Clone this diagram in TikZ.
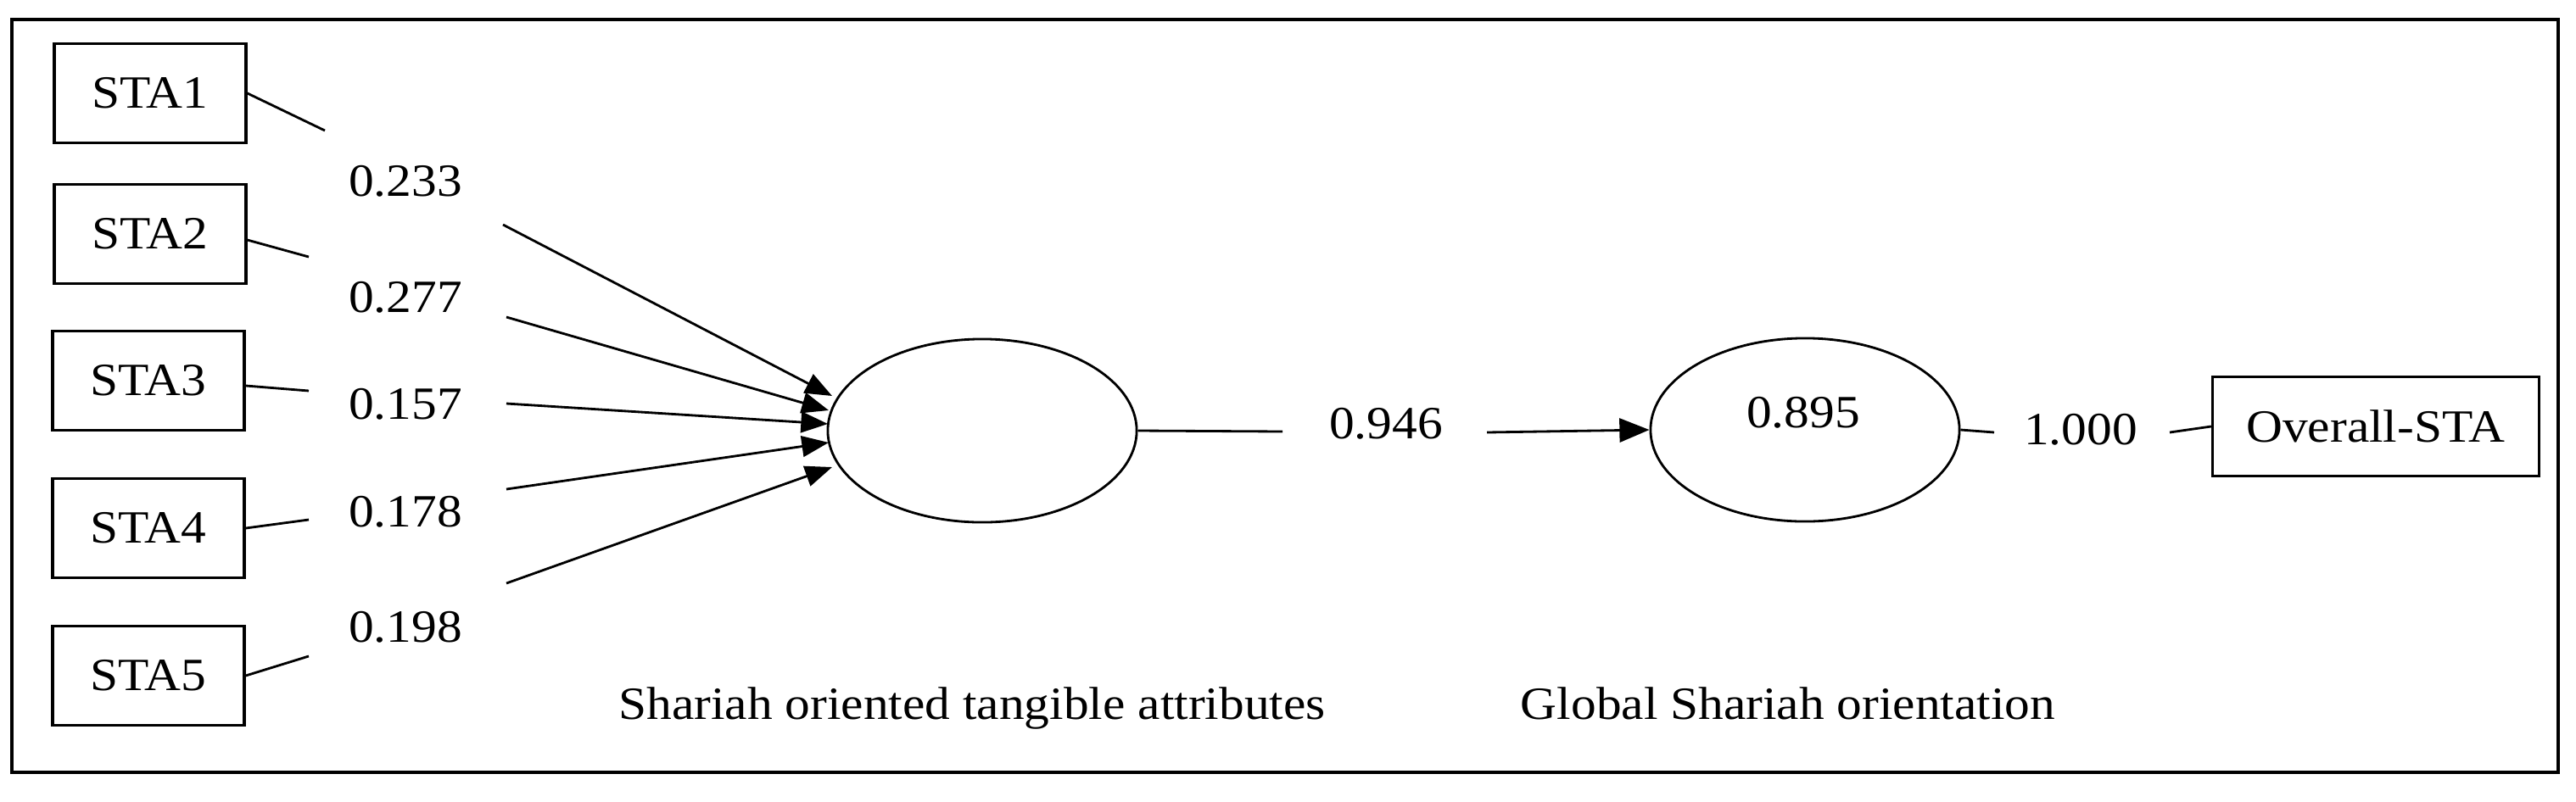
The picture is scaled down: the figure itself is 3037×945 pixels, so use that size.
\documentclass[tikz,border=0pt]{standalone}
\usepackage{fontspec}
\setmainfont{Liberation Serif}[FakeStretch=1.09]
\usetikzlibrary{arrows.meta,shapes.geometric}
\begin{document}
\begin{tikzpicture}[x=0.01cm,y=-0.01cm,
  font=\fontsize{15.5}{18}\selectfont,
  box/.style={draw, line width=0.9pt, minimum width=2.26cm, minimum height=1.17cm, inner sep=0pt},
  bigbox/.style={box, minimum width=3.85cm},
  lv/.style={draw, ellipse, line width=0.8pt, minimum width=3.64cm, minimum height=2.16cm, inner sep=0pt},
  lbl/.style={inner sep=0pt},
  ln/.style={line width=0.8pt},
  arr/.style={ln, -{Triangle[length=9pt,width=7pt]}}]
\useasboundingbox (0,0) rectangle (3037,945);
\draw[line width=1.3pt] (14,23) rectangle (3016,911);

% indicator boxes
\node[box] (sta1) at (177,110) {STA1};
\node[box] (sta2) at (177,276) {STA2};
\node[box] (sta3) at (175,449) {STA3};
\node[box] (sta4) at (175,623) {STA4};
\node[box] (sta5) at (175,797) {STA5};

% weights
\node[lbl] (w1) at (478,214) {0.233};
\node[lbl] (w2) at (478,351) {0.277};
\node[lbl] (w3) at (478,477) {0.157};
\node[lbl] (w4) at (478,604) {0.178};
\node[lbl] (w5) at (478,740) {0.198};

% latent variables
\node[lv] (sota) at (1158,508) {};
\node[lv] (gso) at (2128,507) {};
\node[lbl] (r2) at (2126,487) {0.895};
\node[bigbox] (ov) at (2801,503) {Overall-STA};

\node[lbl] (p1) at (1634,500) {0.946};
\node[lbl] (p2) at (2453,507) {1.000};

\node[lbl, anchor=base] (t1) at (1146,848) {Shariah oriented tangible attributes};
\node[lbl, anchor=base] (t2) at (2108,848) {Global Shariah orientation};

% free ends of connectors
\coordinate (e1) at (383,154);
\coordinate (e2) at (364,303);
\coordinate (e3) at (364,461);
\coordinate (e4) at (364,613);
\coordinate (e5) at (364,774);

\coordinate (s1) at (593,265);
\coordinate (s2) at (597,374);
\coordinate (s3) at (597,476);
\coordinate (s4) at (597,577);
\coordinate (s5) at (597,688);

\coordinate (h1) at (981,467);
\coordinate (h2) at (977,484);
\coordinate (h3) at (976,500);
\coordinate (h4) at (977,522);
\coordinate (h5) at (981,551);

\coordinate (m1) at (1512,509);
\coordinate (m2) at (1753,510);
\coordinate (m3) at (2351,510);
\coordinate (m4) at (2558,510);

\draw[ln] (sta1.east) -- (e1);
\draw[ln] ([yshift=-2pt]sta2.east) -- (e2);
\draw[ln] ([yshift=-1.7pt]sta3.east) -- (e3);
\draw[ln] (sta4.east) -- (e4);
\draw[ln] (sta5.east) -- (e5);

\draw[arr] (s1) -- (h1);
\draw[arr] (s2) -- (h2);
\draw[arr] (s3) -- (h3);
\draw[arr] (s4) -- (h4);
\draw[arr] (s5) -- (h5);

\draw[ln] (sota.east) -- (m1);
\draw[ln, -{Triangle[length=10pt,width=8pt]}] (m2) -- (gso.west);
\draw[ln] (gso.east) -- (m3);
\draw[ln] (m4) -- (ov.west);
\end{tikzpicture}
\end{document}
